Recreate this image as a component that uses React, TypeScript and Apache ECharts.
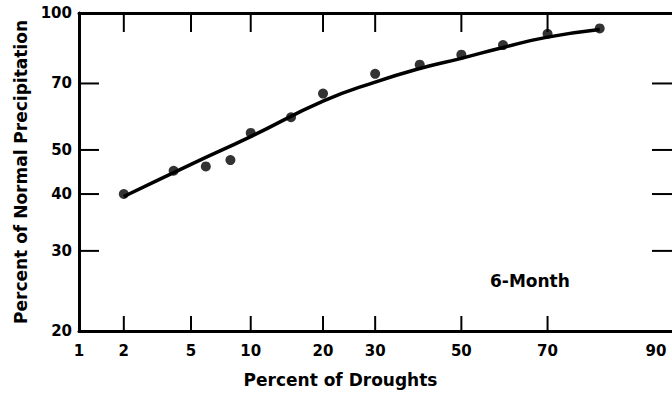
import React, { useEffect, useRef } from "react";
import * as echarts from "echarts";

// Observed points: percent of droughts vs percent of normal precipitation
const pointPercents = [2, 4, 6, 8, 10, 15, 20, 30, 40, 50, 60, 70, 80];
const pointValues = [40, 45, 46, 47.5, 54.5, 59, 66.5, 73.5, 77, 81, 85, 90, 92.5];

// Fitted curve
const curvePercents = [2, 5, 10, 20, 30, 40, 50, 60, 70, 80];
const curveValues = [39.5, 46.5, 53.5, 64, 70.5, 75.5, 79.5, 84, 88.5, 92];

// Tick labels
const xTickPercents = [1, 2, 5, 10, 20, 30, 50, 70, 90];
const xInnerTickPercents = [2, 5, 10, 20, 30, 50, 70];
const yTickLabels = [20, 30, 40, 50, 70, 100];
const yInnerTicks = [30, 40, 50, 70];
const yMin = 20;
const yMax = 100;

// Normal probability scale (inverse normal CDF, Acklam)
function probit(p: number): number {
  const a = [-3.969683028665376e1, 2.209460984245205e2, -2.759285104469687e2, 1.38357751867269e2, -3.066479806614716e1, 2.506628277459239];
  const b = [-5.447609879822406e1, 1.615858368580409e2, -1.556989798598866e2, 6.680131188771972e1, -1.328068155288572e1];
  const c = [-7.784894002430293e-3, -3.223964580411365e-1, -2.400758277161838, -2.549671750542600, 4.374664141464968, 2.938163982698783];
  const d = [7.784695709041462e-3, 3.224671290700398e-1, 2.445134137142996, 3.754408661907416];
  const pl = 0.02425;
  if (p < pl) {
    const q = Math.sqrt(-2 * Math.log(p));
    return (((((c[0] * q + c[1]) * q + c[2]) * q + c[3]) * q + c[4]) * q + c[5]) / ((((d[0] * q + d[1]) * q + d[2]) * q + d[3]) * q + 1);
  }
  if (p > 1 - pl) {
    const q = Math.sqrt(-2 * Math.log(1 - p));
    return -(((((c[0] * q + c[1]) * q + c[2]) * q + c[3]) * q + c[4]) * q + c[5]) / ((((d[0] * q + d[1]) * q + d[2]) * q + d[3]) * q + 1);
  }
  const q = p - 0.5;
  const r = q * q;
  return ((((((a[0] * r + a[1]) * r + a[2]) * r + a[3]) * r + a[4]) * r + a[5]) * q) / (((((b[0] * r + b[1]) * r + b[2]) * r + b[3]) * r + b[4]) * r + 1);
}
const z = (pct: number) => probit(pct / 100);

const FONT = "DejaVu Sans";

export default function App() {
  const ref = useRef<HTMLDivElement>(null);
  useEffect(() => {
    if (!ref.current) return;
    const chart = echarts.init(ref.current, null, { renderer: "svg" });
    const xMin = z(xTickPercents[0]);
    const xMax = z(xTickPercents[xTickPercents.length - 1]);
    const labelFor = (v: number) => {
      const p = xTickPercents.find((t) => Math.abs(z(t) - v) < 1e-6);
      return p === undefined ? "" : String(p);
    };
    const labelStyle = { color: "#000", fontFamily: FONT, fontWeight: "bold" as const, fontSize: 15 };
    const tickStyle = { stroke: "#000", lineWidth: 2 };
    chart.setOption({
      animation: false,
      grid: { left: 79, right: 0, top: 13, bottom: 63 },
      xAxis: [
        {
          type: "value",
          position: "bottom",
          min: xMin,
          max: xMax,
          splitLine: { show: false },
          axisLine: { show: true, onZero: false, lineStyle: { color: "#000", width: 3 } },
          axisTick: { show: false },
          axisLabel: {
            ...labelStyle,
            margin: 12,
            customValues: xTickPercents.map(z),
            formatter: (v: number) => {
              const s = labelFor(v);
              return s === "90" ? "{e|" + s + "}" : s;
            },
            rich: { e: { ...labelStyle, padding: [0, 32, 0, 0] } },
          },
          name: "Percent of Droughts",
          nameLocation: "middle",
          nameGap: 40,
          nameTextStyle: { ...labelStyle, fontSize: 17, padding: [0, 70, 0, 0] },
        },
        {
          type: "value",
          position: "top",
          min: xMin,
          max: xMax,
          splitLine: { show: false },
          axisLine: { show: true, onZero: false, lineStyle: { color: "#000", width: 3 } },
          axisTick: { show: false },
          axisLabel: { show: false },
        },
      ],
      yAxis: [
        {
          type: "log",
          position: "left",
          min: yMin,
          max: yMax,
          splitLine: { show: false },
          axisLine: { show: true, onZero: false, lineStyle: { color: "#000", width: 3 } },
          axisTick: { show: false },
          axisLabel: { ...labelStyle, margin: 7, customValues: yTickLabels },
          name: "Percent of Normal Precipitation",
          nameLocation: "middle",
          nameGap: 48,
          nameTextStyle: { ...labelStyle, fontSize: 17 },
        },
        {
          type: "log",
          position: "right",
          min: yMin,
          max: yMax,
          splitLine: { show: false },
          axisLine: { show: false, onZero: false },
          axisTick: { show: false },
          axisLabel: { show: false },
        },
      ],
      graphic: [
        {
          type: "text",
          left: 490,
          top: 272,
          style: { text: "6-Month", fill: "#000", font: `bold 17px "${FONT}"` },
        },
      ],
      series: [
        {
          type: "line",
          smooth: true,
          showSymbol: false,
          symbol: "none",
          lineStyle: { color: "#000", width: 3.5 },
          data: curvePercents.map((p, i) => [z(p), curveValues[i]]),
        },
        {
          type: "scatter",
          symbolSize: 10,
          itemStyle: { color: "#000" },
          data: pointPercents.map((p, i) => [z(p), pointValues[i]]),
        },
        {
          // inward ticks on bottom and top frame at the probability tick values
          type: "custom",
          silent: true,
          z: 5,
          data: xInnerTickPercents.map((p) => [z(p), yMin]),
          renderItem: (_params: any, api: any) => {
            const xv = api.value(0);
            const bot = api.coord([xv, yMin]);
            const top = api.coord([xv, yMax]);
            return {
              type: "group",
              children: [
                { type: "line", shape: { x1: bot[0], y1: bot[1], x2: bot[0], y2: bot[1] - 15 }, style: tickStyle },
                { type: "line", shape: { x1: top[0], y1: top[1], x2: top[0], y2: top[1] + 19 }, style: tickStyle },
              ],
            };
          },
        },
        {
          // inward ticks on left and right frame at the precipitation tick values
          type: "custom",
          silent: true,
          z: 5,
          data: yInnerTicks.map((v) => [xMin, v]),
          renderItem: (_params: any, api: any) => {
            const yv = api.value(1);
            const l = api.coord([xMin, yv]);
            const r = api.coord([xMax, yv]);
            return {
              type: "group",
              children: [
                { type: "line", shape: { x1: l[0], y1: l[1], x2: l[0] + 20, y2: l[1] }, style: tickStyle },
                { type: "line", shape: { x1: r[0], y1: r[1], x2: r[0] - 20, y2: r[1] }, style: tickStyle },
              ],
            };
          },
        },
      ],
    });
    return () => chart.dispose();
  }, []);
  return (
    <div
      ref={ref}
      style={{ position: "absolute", left: 0, top: 0, width: 672, height: 394, background: "#fff" }}
    />
  );
}
